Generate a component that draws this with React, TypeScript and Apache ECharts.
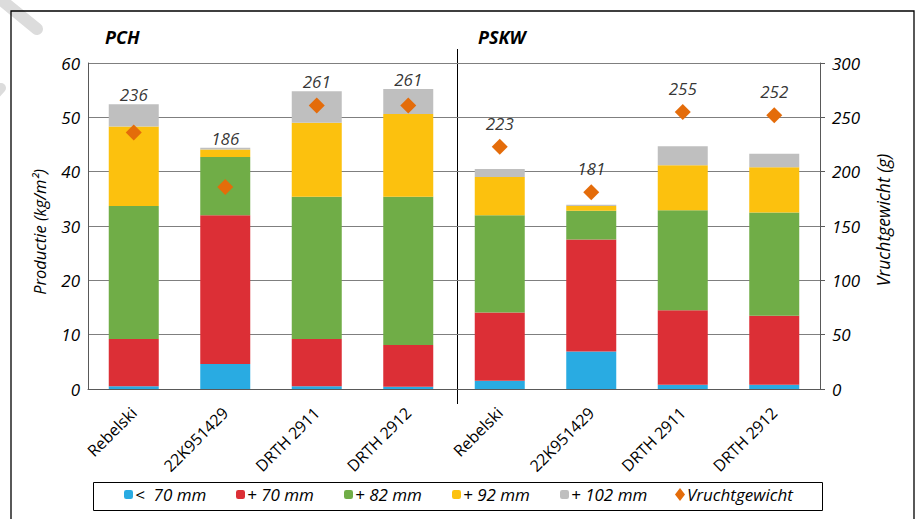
import React, { useEffect, useRef } from 'react';
import * as echarts from 'echarts';

const FONT = '"Open Sans", "Liberation Sans", sans-serif';

const categories = ['Rebelski', '22K951429', 'DRTH 2911', 'DRTH 2912', 'Rebelski', '22K951429', 'DRTH 2911', 'DRTH 2912'];
const below70 = [0.5, 4.6, 0.5, 0.4, 1.5, 6.9, 0.8, 0.8];
const plus70 = [8.7, 27.4, 8.7, 7.7, 12.6, 20.6, 13.7, 12.7];
const plus82 = [24.5, 10.7, 26.2, 27.3, 17.9, 5.3, 18.4, 19.0];
const plus92 = [14.6, 1.4, 13.6, 15.2, 7.0, 0.9, 8.3, 8.3];
const plus102 = [4.1, 0.3, 5.8, 4.6, 1.5, 0.2, 3.5, 2.5];
const fruitWeight = [236, 186, 261, 261, 223, 181, 255, 252];

const seriesNames = ['<  70 mm', '+ 70 mm', '+ 82 mm', '+ 92 mm', '+ 102 mm', 'Vruchtgewicht'];
const groupTitles = ['PCH', 'PSKW'];
const leftTicks = { min: 0, max: 60, interval: 10 };
const rightTicks = { min: 0, max: 300, interval: 50 };

const COLORS = ['#29ABE2', '#DC2F36', '#70AD47', '#FCC10E', '#BFBFBF', '#E46C0A'];

export default function App() {
  const ref = useRef<HTMLDivElement>(null);
  useEffect(() => {
    document.body.style.margin = '0';
    const chart = echarts.init(ref.current!, null, { renderer: 'svg' });
    const stacks = [below70, plus70, plus82, plus92, plus102];
    const ratio = rightTicks.max / leftTicks.max;
    const labelData = fruitWeight.map((w, i) => {
      const total = stacks.reduce((s, arr) => s + arr[i], 0) * ratio;
      const diamondHigher = w > total;
      return {
        value: Math.max(w, total),
        label: { distance: diamondHigher ? 15 : 1, formatter: String(w) },
      };
    });
    const legendX = [124, 236, 344, 452, 560, 675];
    const option: any = {
      animation: false,
      backgroundColor: '#fff',
      textStyle: { fontFamily: FONT },
      grid: { left: 88, right: 95, top: 63, bottom: 130, containLabel: false },
      xAxis: {
        type: 'category',
        data: categories,
        axisLine: { show: true, lineStyle: { color: '#595959', width: 1 } },
        axisTick: { show: false },
        axisLabel: { rotate: 45, fontSize: 16, color: '#000', fontFamily: FONT, margin: 21, interval: 0 },
      },
      yAxis: [
        {
          type: 'value',
          ...leftTicks,
          name: 'Productie (kg/m²)',
          nameLocation: 'middle',
          nameRotate: 90,
          nameGap: 40,
          nameTextStyle: { fontSize: 16.5, fontStyle: 'italic', color: '#000', fontFamily: FONT, padding: [0, 12, 0, 0] },
          axisLine: { show: true, lineStyle: { color: '#595959', width: 1 } },
          axisTick: { show: false },
          axisLabel: { fontSize: 17, fontStyle: 'italic', color: '#000', fontFamily: FONT, margin: 8 },
          splitLine: { show: true, lineStyle: { color: '#7F7F7F', width: 1 } },
        },
        {
          type: 'value',
          ...rightTicks,
          position: 'right',
          name: 'Vruchtgewicht (g)',
          nameLocation: 'middle',
          nameRotate: 90,
          nameGap: 54,
          nameTextStyle: { fontSize: 17.5, fontStyle: 'italic', color: '#000', fontFamily: FONT, padding: [0, 0, 0, 12] },
          axisLine: { show: true, lineStyle: { color: '#595959', width: 1 } },
          axisTick: { show: true, inside: false, length: 5, lineStyle: { color: '#595959' } },
          axisLabel: { fontSize: 17, fontStyle: 'italic', color: '#000', fontFamily: FONT, margin: 12 },
          splitLine: { show: false },
        },
      ],
      legend: legendX.map((x, i) => ({
        data: [seriesNames[i]],
        left: x,
        top: 486,
        padding: 0,
        itemWidth: i === 5 ? 10 : 9,
        itemHeight: i === 5 ? 13 : 9,
        selectedMode: false,
        textStyle: { fontSize: 17, fontStyle: 'italic', color: '#000', fontFamily: FONT, padding: [0, 0, 0, -3] },
      })),
      series: [
        ...stacks.map((arr, i) => ({
          name: seriesNames[i],
          type: 'bar',
          stack: 'total',
          barWidth: 50,
          data: arr,
          itemStyle: { color: COLORS[i] },
          emphasis: { disabled: true },
        })),
        {
          name: seriesNames[5],
          type: 'scatter',
          yAxisIndex: 1,
          symbol: 'diamond',
          symbolSize: 16,
          data: fruitWeight,
          itemStyle: { color: COLORS[5], opacity: 1 },
          z: 5,
        },
        {
          name: 'labels',
          type: 'scatter',
          yAxisIndex: 1,
          symbolSize: 0,
          silent: true,
          data: labelData,
          label: { show: true, position: 'top', fontSize: 17, fontStyle: 'italic', color: '#000', fontFamily: FONT },
          z: 6,
        },
      ],
      graphic: [
        { type: 'line', shape: { x1: -6, y1: -6, x2: 37, y2: 29 }, style: { stroke: '#DCDCDC', lineWidth: 12, lineCap: 'round' }, z: -1 },
        { type: 'line', shape: { x1: -8, y1: 98, x2: 1, y2: 88 }, style: { stroke: '#DCDCDC', lineWidth: 10, lineCap: 'round' }, z: -1 },
        { type: 'rect', shape: { x: 11, y: 11, width: 903, height: 530 }, style: { fill: 'none', stroke: '#000', lineWidth: 1.3 } },
        { type: 'line', shape: { x1: 457.5, y1: 49, x2: 457.5, y2: 404 }, style: { stroke: '#000', lineWidth: 1 } },
        { type: 'rect', shape: { x: 93.5, y: 482.5, width: 729, height: 28 }, style: { fill: 'none', stroke: '#000', lineWidth: 1 } },
        { type: 'text', x: 105, y: 28, style: { text: groupTitles[0], font: 'italic bold 18px ' + FONT, fill: '#000' } },
        { type: 'text', x: 478, y: 28, style: { text: groupTitles[1], font: 'italic bold 18px ' + FONT, fill: '#000' } },
      ],
    };
    chart.setOption(option);
    return () => chart.dispose();
  }, []);
  return <div ref={ref} style={{ width: 915, height: 519 }} />;
}
